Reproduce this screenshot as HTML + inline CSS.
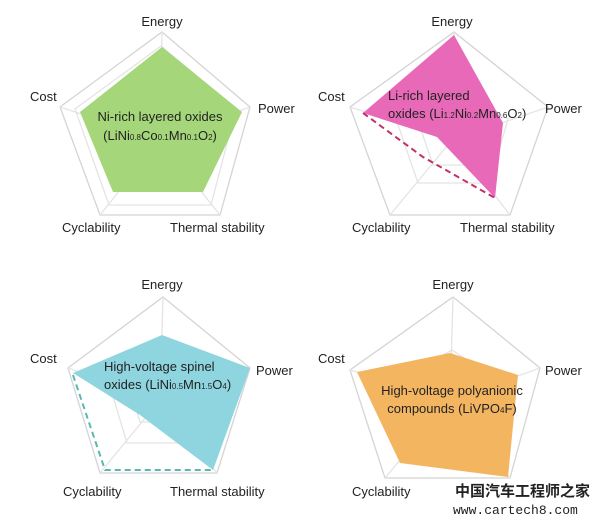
<!DOCTYPE html>
<html><head><meta charset="utf-8"><style>
body{margin:0;background:#fff}
svg{display:block}
text{font-family:"Liberation Sans",Arial,sans-serif;font-size:13px;fill:#222}
</style></head><body>
<svg width="600" height="527" viewBox="0 0 600 527" xmlns="http://www.w3.org/2000/svg">
<g fill="none" stroke="#d4d4d4" stroke-width="1.3">
 <!-- TL -->
 <polygon points="162,32 250,107 220,215 100,215 60,107"/>
 <polygon points="161,46 236,109 211,205 109,205 75,109" stroke="#e4e4e4"/>
 <polygon points="161,86 214,119 195,183 124,183 104,119" stroke="#e4e4e4"/>
 <polygon points="160,115 191,127 178,165 140,165 128,127" stroke="#e4e4e4"/>
 <path d="M160,140L162,32M160,140L60,107M160,140L250,107M160,140L220,215M160,140L100,215" stroke="#e4e4e4"/>
 <!-- TR -->
 <polygon points="454,32 548,107 510,215 390,215 350,107"/>
 <polygon points="453,86 508,119 490,183 418,183 396,119" stroke="#e4e4e4"/>
 <polygon points="452,115 483,127 471,165 433,165 420,127" stroke="#e4e4e4"/>
 <path d="M452,140L454,32M452,140L350,107M452,140L548,107M452,140L510,215M452,140L390,215" stroke="#e4e4e4"/>
 <!-- BL -->
 <polygon points="163,297 250,368 217,473 100,473 68,368"/>
 <polygon points="161,350 212,380 196,443 127,443 108,380" stroke="#e4e4e4"/>
 <polygon points="160,378 190,387 180,422 140,422 130,387" stroke="#e4e4e4"/>
 <path d="M160,400L163,297M160,400L68,368M160,400L250,368M160,400L217,473M160,400L100,473" stroke="#e4e4e4"/>
 <!-- BR -->
 <polygon points="453,297 540,368 510,478 385,478 350,370"/>
 <polygon points="452,350 500,382 486,443 410,443 395,382" stroke="#e4e4e4"/>
 <polygon points="451,378 482,388 471,422 432,422 420,388" stroke="#e4e4e4"/>
 <path d="M450,400L453,297M450,400L350,370M450,400L540,368M450,400L510,478M450,400L385,478" stroke="#e4e4e4"/>
</g>
<!-- fills -->
<polygon points="162,47 242,112 203,192 113,192 80,112" fill="#a5d67a"/>
<polygon points="454,35 503,123 495,198 437,137 363,113" fill="#e769b8"/>
<polyline points="363,113 423,157 495,198" fill="none" stroke="#c2306b" stroke-width="2" stroke-dasharray="6,4"/>
<polygon points="73,373 162,335 250,368 213,470 140,415" fill="#8fd5df"/>
<polyline points="73,375 105,470 213,470" fill="none" stroke="#5bb8b0" stroke-width="2" stroke-dasharray="6,4"/>
<polygon points="357,372 450,353 518,375 508,477 400,463" fill="#f4b561"/>
<!-- TL labels -->
<text x="162" y="26" text-anchor="middle">Energy</text>
<text x="30" y="101">Cost</text>
<text x="258" y="113">Power</text>
<text x="62" y="232">Cyclability</text>
<text x="170" y="232">Thermal stability</text>
<text x="160" y="121" text-anchor="middle">Ni-rich layered oxides</text>
<text x="160" y="140" text-anchor="middle">(LiNi<tspan font-size="8">0.8</tspan>Co<tspan font-size="8">0.1</tspan>Mn<tspan font-size="8">0.1</tspan>O<tspan font-size="8">2</tspan>)</text>
<!-- TR labels -->
<text x="452" y="26" text-anchor="middle">Energy</text>
<text x="318" y="101">Cost</text>
<text x="545" y="113">Power</text>
<text x="352" y="232">Cyclability</text>
<text x="460" y="232">Thermal stability</text>
<text x="388" y="100">Li-rich layered</text>
<text x="388" y="118">oxides (Li<tspan font-size="8">1.2</tspan>Ni<tspan font-size="8">0.2</tspan>Mn<tspan font-size="8">0.6</tspan>O<tspan font-size="8">2</tspan>)</text>
<!-- BL labels -->
<text x="162" y="289" text-anchor="middle">Energy</text>
<text x="30" y="363">Cost</text>
<text x="256" y="375">Power</text>
<text x="63" y="496">Cyclability</text>
<text x="170" y="496">Thermal stability</text>
<text x="104" y="371">High-voltage spinel</text>
<text x="104" y="389">oxides (LiNi<tspan font-size="8">0.5</tspan>Mn<tspan font-size="8">1.5</tspan>O<tspan font-size="8">4</tspan>)</text>
<!-- BR labels -->
<text x="453" y="289" text-anchor="middle">Energy</text>
<text x="318" y="363">Cost</text>
<text x="545" y="375">Power</text>
<text x="352" y="496">Cyclability</text>
<text x="452" y="395" text-anchor="middle">High-voltage polyanionic</text>
<text x="452" y="413" text-anchor="middle">compounds (LiVPO<tspan font-size="8">4</tspan>F)</text>
<!-- watermark -->
<text x="455" y="496" style="font-family:'Liberation Sans','Noto Sans CJK SC',sans-serif;font-size:15px;font-weight:bold" fill="#333">中国汽车工程师之家</text>
<text x="453" y="514" style="font-family:'Liberation Mono',monospace;font-size:13px" fill="#333">www.cartech8.com</text>
</svg>
</body></html>
